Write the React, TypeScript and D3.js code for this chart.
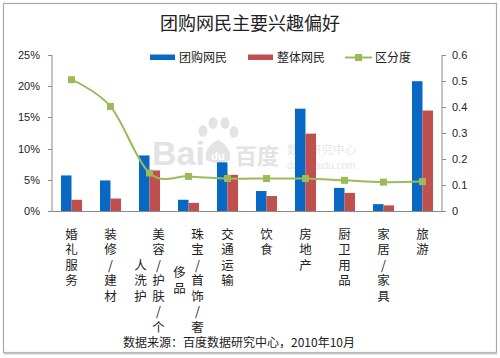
import React from "react";
import * as d3 from "d3";

const categories = ["婚礼服务", "装修/建材", "美容/护肤/个人洗护", "珠宝/首饰/奢侈品", "交通运输", "饮食", "房地产", "厨卫用品", "家居/家具", "旅游"];
const groupBuyers = [0.057, 0.049, 0.089, 0.018, 0.078, 0.032, 0.164, 0.037, 0.011, 0.208];
const allUsers = [0.018, 0.020, 0.065, 0.013, 0.058, 0.024, 0.124, 0.029, 0.009, 0.161];
const distinction = [0.505, 0.402, 0.146, 0.133, 0.125, 0.125, 0.125, 0.118, 0.111, 0.113];
const leftTicks = [0, 0.05, 0.1, 0.15, 0.2, 0.25];
const rightTicks = [0, 0.1, 0.2, 0.3, 0.4, 0.5, 0.6];
const seriesNames = ["团购网民", "整体网民", "区分度"];
const title = "团购网民主要兴趣偏好";
const source = "数据来源：百度数据研究中心，2010年10月";

const BLUE = "#0868C4";
const RED = "#C0504D";
const GREEN = "#9BBB59";
const AXIS = "#8a8a8a";
const CJK = "'Noto Sans CJK SC', 'Noto Sans', sans-serif";
const NUM = "'Liberation Sans', Arial, sans-serif";

export default function App() {
  const W = 500, H = 358;
  const left = 52, right = 442, top = 55, bottom = 211;
  const x = d3.scaleBand<string>().domain(categories).range([left, right]).padding(0);
  const yL = d3.scaleLinear().domain([0, 0.25]).range([bottom, top]);
  const yR = d3.scaleLinear().domain([0, 0.6]).range([bottom, top]);
  const bw = x.bandwidth() * 0.27;
  const cx = (c: string) => (x(c) as number) + x.bandwidth() / 2;

  const line = d3
    .line<number>()
    .x((_, i) => cx(categories[i]))
    .y((d) => yR(d))
    .curve(d3.curveCatmullRom.alpha(0));

  const rowStep = 15.5;
  const rowStart = 233;
  const labelCols = (s: string) => {
    const chars = Array.from(s);
    const cols: string[][] = [];
    for (let i = 0; i < chars.length; i += 7) cols.push(chars.slice(i, i + 7));
    return cols;
  };

  return (
    <svg width={W} height={H} style={{ position: "absolute", left: 0, top: 0 }}>
      <rect x={0} y={0} width={W} height={H} fill="#fff" />
      <rect x={3.5} y={3.5} width={493} height={349} fill="#fff" stroke="#a8a8a8" strokeWidth={1.2} />
      <line x1={4} x2={497} y1={353.5} y2={353.5} stroke="#c8c8c8" strokeWidth={2} />

      {/* watermark */}
      <g fill="#e3e3e3">
        <text x={152} y={165} fontFamily={NUM} fontWeight="bold" fontSize={34} fill="#e3e3e3">Bai</text>
        <ellipse cx={203} cy={131} rx={4.5} ry={6} />
        <ellipse cx={213} cy={123} rx={4.5} ry={6} />
        <ellipse cx={225} cy={123} rx={4.5} ry={6} />
        <ellipse cx={234} cy={132} rx={4.5} ry={6} />
        <path d="M206,160 Q204,147 218,140 Q232,147 230,160 Q218,166 206,160 Z" />
        <text x={218} y={160} textAnchor="middle" fontFamily={NUM} fontWeight="bold" fontSize={11} fill="#fff">du</text>
        <text x={235} y={164} fontFamily={CJK} fontWeight="bold" fontSize={22} fill="#e3e3e3">百度</text>
        <text x={287} y={154} fontFamily={CJK} fontSize={11.5} fill="#e6e6e6">数据研究中心</text>
        <text x={287} y={169} fontFamily={NUM} fontSize={10} fill="#e6e6e6">data.baidu.com</text>
      </g>

      <text x={250} y={30} textAnchor="middle" fontFamily={CJK} fontSize={18} fill="#222">{title}</text>

      {/* legend */}
      <rect x={150} y={54.5} width={25} height={5.5} fill={BLUE} />
      <text x={179} y={62} fontFamily={CJK} fontSize={12} fill="#222">{seriesNames[0]}</text>
      <rect x={248} y={54.5} width={25} height={5.5} fill={RED} />
      <text x={277} y={62} fontFamily={CJK} fontSize={12} fill="#222">{seriesNames[1]}</text>
      <line x1={345} x2={372} y1={57.5} y2={57.5} stroke={GREEN} strokeWidth={2} />
      <rect x={355} y={54} width={7} height={7} fill={GREEN} />
      <text x={375} y={62} fontFamily={CJK} fontSize={12} fill="#222">{seriesNames[2]}</text>

      {/* bars */}
      {categories.map((c, i) => (
        <g key={c}>
          <rect x={cx(c) - bw} y={yL(groupBuyers[i])} width={bw} height={bottom - yL(groupBuyers[i])} fill={BLUE} />
          <rect x={cx(c)} y={yL(allUsers[i])} width={bw} height={bottom - yL(allUsers[i])} fill={RED} />
        </g>
      ))}

      {/* axes */}
      <line x1={left} x2={left} y1={top} y2={bottom} stroke={AXIS} />
      <line x1={right} x2={right} y1={top} y2={bottom} stroke={AXIS} />
      <line x1={left} x2={right} y1={bottom + 0.5} y2={bottom + 0.5} stroke={AXIS} />
      {leftTicks.map((t) => (
        <g key={"l" + t}>
          <line x1={left - 4} x2={left} y1={Math.round(yL(t)) + 0.5} y2={Math.round(yL(t)) + 0.5} stroke={AXIS} />
          <text x={40} y={yL(t) + 4} textAnchor="end" fontFamily={NUM} fontSize={11} fill="#222">{d3.format(".0%")(t)}</text>
        </g>
      ))}
      {rightTicks.map((t) => (
        <g key={"r" + t}>
          <line x1={right} x2={right + 4} y1={Math.round(yR(t)) + 0.5} y2={Math.round(yR(t)) + 0.5} stroke={AXIS} />
          <text x={452} y={yR(t) + 4} fontFamily={NUM} fontSize={11} fill="#222">{t === 0 ? "0" : d3.format(".1f")(t)}</text>
        </g>
      ))}

      {/* line */}
      <path d={line(distinction) || ""} fill="none" stroke={GREEN} strokeWidth={2} />
      {distinction.map((d, i) => (
        <rect key={"m" + i} x={cx(categories[i]) - 3.5} y={yR(d) - 3.5} width={7} height={7} fill={GREEN} />
      ))}

      {/* category labels */}
      {categories.map((c) => {
        const cols = labelCols(c);
        const n = cols.length;
        const firstLen = cols[0].length;
        return (
          <g key={"t" + c}>
            {cols.map((col, k) => {
              const colX = cx(c) + (n === 1 ? 0 : k === 0 ? 9 : -9);
              const mid = rowStart + ((firstLen - 1) * rowStep) / 2;
              const start = k === 0 ? rowStart : mid - ((col.length - 1) * rowStep) / 2;
              return col.map((ch, j) => (
                <text key={k + "-" + j} x={colX} y={start + j * rowStep} textAnchor="middle" dominantBaseline="central" fontFamily={CJK} fontSize={12.5} fill="#222">
                  {ch}
                </text>
              ));
            })}
          </g>
        );
      })}

      <text x={123} y={347} fontFamily={CJK} fontSize={12} fill="#222">{source}</text>
    </svg>
  );
}
